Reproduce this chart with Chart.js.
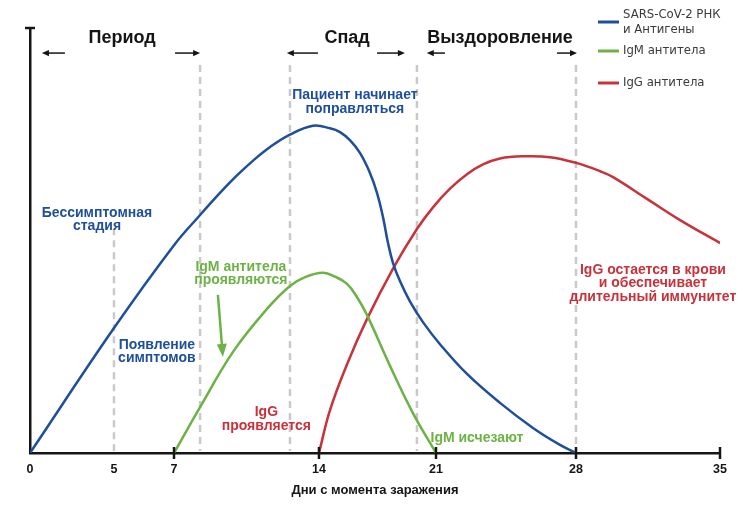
<!DOCTYPE html>
<html>
<head>
<meta charset="utf-8">
<script src="https://cdn.jsdelivr.net/npm/chart.js@4.4.1/dist/chart.umd.min.js"></script>
<style>
  html, body { margin: 0; padding: 0; background: #fff; }
</style>
</head>
<body>
<canvas id="infectionChart" width="755" height="511"></canvas>
<script>
// Значения: дни с момента заражения / условный уровень 0..100
const rnaDays  = [0, 5, 7, 8.26, 9.22, 10.04, 10.82, 11.64, 12.6, 13.71, 14.66, 15.26, 15.85, 16.45, 17.05, 17.47, 17.83, 18.13, 18.43, 18.85, 19.44, 20.22, 21.2, 22.55, 24.2, 25.85, 27.2, 28];
const rnaLevel = [0, 29.4, 48.9, 56, 61.2, 65.3, 68.8, 72, 74.9, 77, 76.4, 75.5, 73.6, 70.6, 65.9, 61.2, 55.5, 49.4, 44.7, 40.4, 35.7, 30.8, 25.6, 18.6, 11.8, 5.9, 1.9, 0];

const igmDays  = [7, 8.26, 9.85, 11.49, 12.6, 13.33, 14.24, 14.96, 15.68, 16.27, 16.87, 18.25, 19.62, 21];
const igmLevel = [0, 10.8, 23.8, 33.9, 39.3, 41.4, 42.4, 41.5, 39.8, 36.7, 32.5, 20.5, 9.4, 0];

const iggDays  = [14, 14.66, 15.68, 16.87, 18.43, 19.86, 20.82, 21.7, 22.55, 23.35, 24.2, 25.35, 26.7, 28.05, 29.17, 29.8, 31.45, 33.06, 35];
const iggLevel = [0, 10.1, 20.9, 31.5, 43.4, 52.7, 57.8, 62.2, 65.6, 67.9, 69.3, 69.8, 69.6, 68.2, 66.3, 64.9, 59.8, 54.8, 49.4];

const seriesNames = ['SARS-CoV-2 РНК\nи Антигены', 'IgM антитела', 'IgG антитела'];
const tickDays = [0, 5, 7, 14, 21, 28, 35];
const markedTicks = [7, 14, 21, 28, 35];
const phaseLineDays = [5, 8.26, 12.6, 19.86, 28];
const phaseLineTops = [52.9, 91.3, 91.3, 91.3, 91.3];

const BLUE = '#1f4e9b';
const GREEN = '#6cb245';
const RED = '#c8323b';
const INK = '#151515';

// ось на рисунке нарисована от руки: деления стоят неравномерно
const axisStops = tickDays;
const axisFracs = [0, 0.1217, 0.2087, 0.4188, 0.5884, 0.7913, 1];

class WarpedScale extends Chart.LinearScale {
    getPixelForValue(value) {
        let i = 1;
        while (i < axisStops.length - 1 && value > axisStops[i]) i++;
        const t = (value - axisStops[i - 1]) / (axisStops[i] - axisStops[i - 1]);
        return this.getPixelForDecimal(axisFracs[i - 1] + t * (axisFracs[i] - axisFracs[i - 1]));
    }
    getValueForPixel(pixel) {
        const f = this.getDecimalForPixel(pixel);
        let i = 1;
        while (i < axisFracs.length - 1 && f > axisFracs[i]) i++;
        const t = (f - axisFracs[i - 1]) / (axisFracs[i] - axisFracs[i - 1]);
        return axisStops[i - 1] + t * (axisStops[i] - axisStops[i - 1]);
    }
}
WarpedScale.id = 'warped';
WarpedScale.defaults = Chart.LinearScale.defaults;
Chart.register(WarpedScale);

const phases = [
    {name: 'Период', at: 5.27, arrows: [[2.08, 0.71], [7.05, 8.26]]},
    {name: 'Спад', at: 15.68, arrows: [[13.95, 12.45], [17.47, 19.14]]},
    {name: 'Выздоровление', at: 24.2, arrows: [[21.45, 20.45], [27.05, 28.05]]}
];

const notes = [
    {lines: ['Пациент начинает', 'поправляться'], day: 16.15, level: 84.2, color: BLUE},
    {lines: ['Бессимптомная', 'стадия'], day: 3.99, level: 56.5, color: BLUE},
    {lines: ['Появление', 'симптомов'], day: 6.43, level: 25.4, color: BLUE},
    {lines: ['IgM антитела', 'проявляются'], day: 10.23, level: 43.8, color: GREEN},
    {lines: ['IgG', 'проявляется'], day: 11.46, level: 9.6, color: RED},
    {lines: ['IgM исчезают'], day: 23.05, level: 3.5, color: GREEN},
    {lines: ['IgG остается в крови', 'и обеспечивает', 'длительный иммунитет'], day: 31.74, level: 43.1, color: RED}
];

function toPoints(days, levels) {
    return days.map((d, i) => ({x: d, y: levels[i]}));
}

function drawArrow(ctx, x1, y1, x2, y2, len, half) {
    const a = Math.atan2(y2 - y1, x2 - x1);
    const c = Math.cos(a), s = Math.sin(a);
    ctx.beginPath();
    ctx.moveTo(x1, y1);
    ctx.lineTo(x2 - c * len * 0.7, y2 - s * len * 0.7);
    ctx.stroke();
    ctx.beginPath();
    ctx.moveTo(x2, y2);
    ctx.lineTo(x2 - c * len + s * half, y2 - s * len - c * half);
    ctx.lineTo(x2 - c * len - s * half, y2 - s * len + c * half);
    ctx.closePath();
    ctx.fill();
}

const decor = {
    id: 'decor',
    beforeDatasetsDraw(chart) {
        const {ctx, scales: {x, y}} = chart;
        ctx.save();
        ctx.strokeStyle = '#c9c9c9';
        ctx.lineWidth = 2.5;
        ctx.setLineDash([7, 5]);
        phaseLineDays.forEach((d, i) => {
            const px = x.getPixelForValue(d);
            ctx.beginPath();
            ctx.moveTo(px, y.getPixelForValue(phaseLineTops[i]));
            ctx.lineTo(px, y.getPixelForValue(0) - 2);
            ctx.stroke();
        });
        ctx.restore();
    },
    afterDatasetsDraw(chart) {
        const {ctx, scales: {x, y}, chartArea} = chart;
        const y0 = y.getPixelForValue(0);
        ctx.save();
        ctx.strokeStyle = INK;
        ctx.fillStyle = INK;
        ctx.lineWidth = 2.5;
        // засечки на оси X
        markedTicks.forEach(d => {
            const px = x.getPixelForValue(d);
            ctx.beginPath();
            ctx.moveTo(px, y0 - 6);
            ctx.lineTo(px, y0 + 6);
            ctx.stroke();
        });
        // перекладина наверху оси Y
        ctx.beginPath();
        ctx.moveTo(chartArea.left - 5, chartArea.top);
        ctx.lineTo(chartArea.left + 5, chartArea.top);
        ctx.stroke();

        // фазы и стрелки
        ctx.font = 'bold 18px "Liberation Sans", Arial, sans-serif';
        ctx.textAlign = 'center';
        ctx.textBaseline = 'middle';
        ctx.lineWidth = 1.5;
        phases.forEach(p => {
            ctx.fillText(p.name, x.getPixelForValue(p.at), y.getPixelForValue(97.6));
            const ay = y.getPixelForValue(94.1);
            p.arrows.forEach(([from, to]) => {
                drawArrow(ctx, x.getPixelForValue(from), ay, x.getPixelForValue(to), ay, 7, 3.2);
            });
        });

        // подписи
        ctx.font = 'bold 14px "Liberation Sans", Arial, sans-serif';
        notes.forEach(n => {
            ctx.fillStyle = n.color;
            const cx = x.getPixelForValue(n.day);
            const cy = y.getPixelForValue(n.level);
            n.lines.forEach((line, i) => ctx.fillText(line, cx, cy + i * 13.5));
        });

        // зелёная стрелка к кривой IgM
        ctx.strokeStyle = GREEN;
        ctx.fillStyle = GREEN;
        ctx.lineWidth = 2.5;
        drawArrow(ctx, x.getPixelForValue(9.12), y.getPixelForValue(37.2),
                  x.getPixelForValue(9.36), y.getPixelForValue(22.6), 13, 5);
        ctx.restore();
    },
    afterDraw(chart) {
        const {ctx} = chart;
        ctx.save();
        ctx.font = '13px "Liberation Sans Narrow", "DejaVu Sans Condensed", sans-serif';
        ctx.textAlign = 'left';
        ctx.textBaseline = 'middle';
        const rows = [22, 51, 83];
        chart.data.datasets.forEach((ds, i) => {
            ctx.strokeStyle = ds.borderColor;
            ctx.lineWidth = 3;
            ctx.beginPath();
            ctx.moveTo(598, rows[i]);
            ctx.lineTo(619, rows[i]);
            ctx.stroke();
            ctx.fillStyle = '#3a3a3a';
            const parts = ds.label.split('\n');
            const top = rows[i] - (parts.length - 1) * 15 / 2;
            parts.forEach((t, k) => ctx.fillText(t, 623, top + k * 15));
        });
        ctx.restore();
    }
};

document.addEventListener('DOMContentLoaded', function() {
    const ctxChart = document.getElementById('infectionChart');

    new Chart(ctxChart, {
        type: 'line',
        data: {
            datasets: [
                {label: seriesNames[0], data: toPoints(rnaDays, rnaLevel), borderColor: BLUE},
                {label: seriesNames[1], data: toPoints(igmDays, igmLevel), borderColor: GREEN},
                {label: seriesNames[2], data: toPoints(iggDays, iggLevel), borderColor: RED}
            ]
        },
        options: {
            responsive: false,
            animation: false,
            layout: {padding: {left: 30, right: 35, top: 28, bottom: 0}},
            elements: {
                line: {borderWidth: 2.5, tension: 0.4, fill: false},
                point: {radius: 0, hoverRadius: 0}
            },
            plugins: {
                legend: {display: false},
                tooltip: {enabled: false}
            },
            scales: {
                x: {
                    type: 'warped',
                    min: 0,
                    max: 35,
                    afterBuildTicks: function(scale) {
                        scale.ticks = tickDays.map(v => ({value: v}));
                    },
                    afterFit: function(scale) {
                        scale.height = 58;
                    },
                    grid: {display: false},
                    border: {display: true, color: INK, width: 2.5},
                    ticks: {
                        color: INK,
                        padding: 1,
                        maxRotation: 0,
                        font: {family: '"Liberation Sans", Arial, sans-serif', weight: 'bold', size: 12.5}
                    },
                    title: {
                        display: true,
                        text: 'Дни с момента заражения',
                        color: INK,
                        padding: {top: 4, bottom: 13},
                        font: {family: '"Liberation Sans", Arial, sans-serif', weight: 'bold', size: 13}
                    }
                },
                y: {
                    min: 0,
                    max: 100,
                    afterFit: function(scale) {
                        scale.width = 0;
                    },
                    grid: {display: false},
                    border: {display: true, color: INK, width: 2.5},
                    ticks: {display: false}
                }
            }
        },
        plugins: [decor]
    });
});
</script>
</body>
</html>
